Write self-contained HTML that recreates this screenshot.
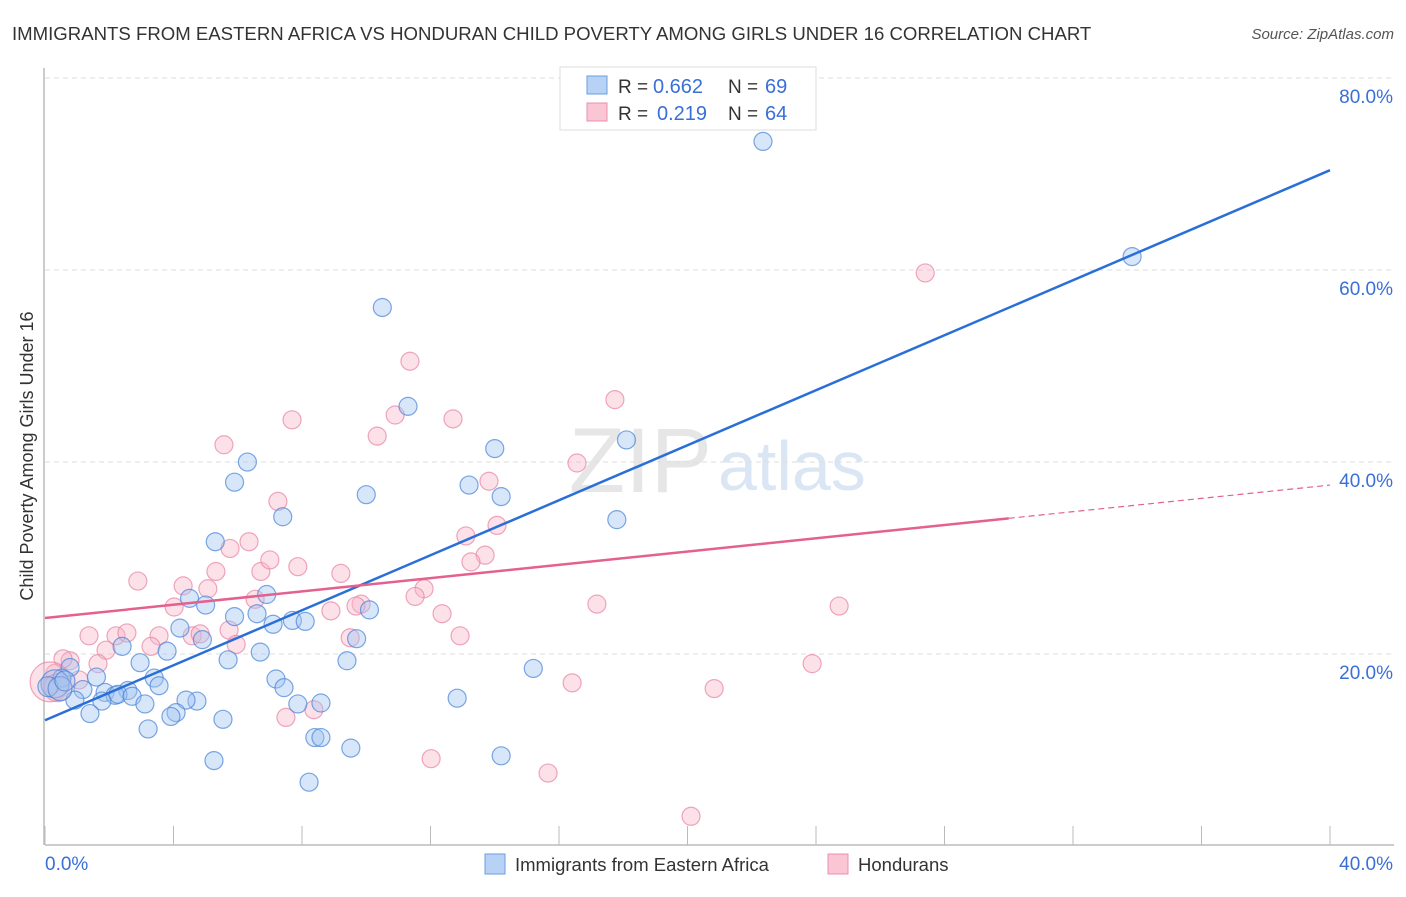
<!DOCTYPE html>
<html><head><meta charset="utf-8"><style>
body{margin:0;background:#fff;font-family:"Liberation Sans",sans-serif}
svg text{font-family:"Liberation Sans",sans-serif}
</style></head><body>
<svg id="chart" width="1406" height="892">
<text x="12" y="40" font-size="18.6" fill="#333">IMMIGRANTS FROM EASTERN AFRICA VS HONDURAN CHILD POVERTY AMONG GIRLS UNDER 16 CORRELATION CHART</text>
<text x="1394" y="39" font-size="15" fill="#555" text-anchor="end" font-style="italic">Source: ZipAtlas.com</text>
<text x="712" y="492" font-size="92" fill="#e6e6e6" text-anchor="end" font-family="Liberation Serif">ZIP</text>
<text x="718" y="490" font-size="70" fill="#dbe6f5">atlas</text>
<text transform="translate(33,456) rotate(-90)" font-size="18" fill="#333" text-anchor="middle">Child Poverty Among Girls Under 16</text>
<g id="grid"></g><g id="axes"></g><g id="pts"></g><g id="trend"></g>
<g>
<rect x="560" y="67" width="256" height="63" fill="#fff" stroke="#ddd"/>
<rect x="587" y="76" width="20" height="18" fill="#b8d2f5" stroke="#6a9ee0"/>
<rect x="587" y="103" width="20" height="18" fill="#fac6d5" stroke="#ec8fac"/>
<text x="618" y="93" font-size="19" fill="#333">R =</text>
<text x="653" y="93" font-size="20" fill="#3a6fd8">0.662</text>
<text x="728" y="93" font-size="19" fill="#333">N =</text>
<text x="765" y="93" font-size="20" fill="#3a6fd8">69</text>
<text x="618" y="120" font-size="19" fill="#333">R =</text>
<text x="657" y="120" font-size="20" fill="#3a6fd8">0.219</text>
<text x="728" y="120" font-size="19" fill="#333">N =</text>
<text x="765" y="120" font-size="20" fill="#3a6fd8">64</text>
</g>
<g>
<rect x="485" y="854" width="20" height="20" fill="#b8d2f5" stroke="#6a9ee0"/>
<text x="515" y="871" font-size="18.5" fill="#333">Immigrants from Eastern Africa</text>
<rect x="828" y="854" width="20" height="20" fill="#fac6d5" stroke="#ec8fac"/>
<text x="858" y="871" font-size="18.5" fill="#333">Hondurans</text>
</g>
</svg>
<script>
const xTicks=[0,4,8,12,16,20,24,28,32,36,40];
const yTicks=[20,40,60,80];
const yTickLabels=["20.0%","40.0%","60.0%","80.0%"];
const blueX=[22.35,33.84,10.5,11.3,18.1,6.3,5.9,10.0,13.2,14.0,14.2,17.8,7.4,5.3,6.9,4.5,5.0,5.9,6.6,7.1,7.7,8.1,10.1,9.7,4.2,4.9,2.4,3.8,2.96,5.7,6.7,9.4,15.2,0.78,0.53,1.6,3.4,3.55,2.58,1.87,2.18,1.18,0.93,2.27,2.71,1.77,3.11,4.73,4.39,7.19,7.44,8.59,7.87,1.4,4.08,3.92,5.54,3.21,12.83,8.4,8.59,9.52,5.26,14.2,8.22,0.31,0.09,0.47,0.62];
const blueY=[73.5,61.5,56.2,45.9,42.4,40.1,38.0,36.7,37.7,41.5,36.5,34.1,34.4,31.8,26.3,25.9,25.2,24.0,24.3,23.2,23.6,23.5,24.7,21.7,22.8,21.6,20.9,20.4,19.2,19.5,20.3,19.4,18.6,18.7,17.6,17.7,17.6,16.8,16.3,16.1,15.8,16.4,15.3,15.9,15.7,15.2,14.9,15.2,15.3,17.5,16.6,15.0,14.9,13.9,14.0,13.6,13.3,12.3,15.5,11.4,11.4,10.3,9.0,9.5,6.75,17.0,16.7,16.5,17.3];
const pinkX=[27.4,11.36,17.74,7.69,12.7,10.9,5.57,10.34,16.56,13.82,7.25,6.35,5.76,13.1,14.07,13.7,13.26,2.89,4.3,5.07,5.32,6.72,7.0,7.87,9.21,11.8,11.52,6.54,4.02,9.84,8.9,9.68,17.18,24.72,12.36,3.55,4.58,4.83,5.73,2.21,2.55,1.37,3.3,5.95,1.9,0.78,0.56,1.65,9.5,12.92,23.88,1.06,0.31,0.22,7.5,8.37,20.83,16.41,12.02,15.66,20.11,0.16,0.4];
const pinkY=[59.8,50.6,46.6,44.5,44.6,45.0,41.9,42.8,40.0,38.1,36.0,31.8,31.1,32.4,33.5,30.4,29.7,27.7,27.2,26.9,28.7,28.7,29.9,29.2,28.5,26.9,26.1,25.8,25.0,25.3,24.6,25.1,25.3,25.1,24.3,22.0,22.0,22.2,22.6,22.0,22.3,22.0,20.9,21.1,20.5,19.4,19.6,19.1,21.8,22.0,19.1,17.4,18.1,16.9,13.5,14.3,16.5,17.1,9.2,7.7,3.2,17.2,16.6];
const blueR=[9,9,9,9,9,9,9,9,9,9,9,9,9,9,9,9,9,9,9,9,9,9,9,9,9,9,9,9,9,9,9,9,9,9,9,9,9,9,9,9,9,9,9,9,9,9,9,9,9,9,9,9,9,9,9,9,9,9,9,9,9,9,9,9,9,14,10,12,10];
const pinkR=[9,9,9,9,9,9,9,9,9,9,9,9,9,9,9,9,9,9,9,9,9,9,9,9,9,9,9,9,9,9,9,9,9,9,9,9,9,9,9,9,9,9,9,9,9,9,9,9,9,9,9,9,9,9,9,9,9,9,9,9,9,20,14];
const blueTrend=[13.2,70.5];
const pinkTrend=[23.85,37.7];
const pinkSolidEnd=30;
const X=v=>45+v/40*1285, Y=v=>847-v*9.6;
const NS="http://www.w3.org/2000/svg";
function mk(t,a,p){const e=document.createElementNS(NS,t);for(const k in a)e.setAttribute(k,a[k]);p.appendChild(e);return e;}
const grid=document.getElementById('grid'),axes=document.getElementById('axes'),pts=document.getElementById('pts'),tr=document.getElementById('trend');
yTicks.forEach((v,i)=>{
 const l=mk('line',{x1:45,x2:1394,y1:Y(v)-1,y2:Y(v)-1,stroke:'#ddd','stroke-dasharray':'5,4'},grid);
 
 
 const t=mk('text',{x:1393,y:Y(v)+24,'font-size':19,fill:'#3a6fd8','text-anchor':'end'},axes);t.textContent=yTickLabels[i];
 
 
});
const ax=mk('line',{x1:45,x2:1394,y1:845,y2:845,stroke:'#bbb','stroke-width':1.5},axes);


const ay=mk('line',{x1:44,x2:44,y1:68,y2:845,stroke:'#bbb','stroke-width':1.5},axes);


xTicks.forEach(v=>{const t=mk('line',{x1:X(v),x2:X(v),y1:826,y2:845,stroke:'#bbb'},axes);
 
 });
const x0=mk('text',{x:45,y:870,'font-size':19,fill:'#3a6fd8'},axes);x0.textContent='0.0%';


const x1=mk('text',{x:1393,y:870,'font-size':19,fill:'#3a6fd8','text-anchor':'end'},axes);x1.textContent='40.0%';


pinkX.forEach((x,i)=>{const c=mk('circle',{cx:X(x),cy:Y(pinkY[i]),r:pinkR[i],fill:'rgba(248,180,200,0.4)',stroke:'rgba(232,130,162,0.7)','stroke-width':1.2},pts);
 
 });
blueX.forEach((x,i)=>{const c=mk('circle',{cx:X(x),cy:Y(blueY[i]),r:blueR[i],fill:'rgba(160,196,240,0.42)',stroke:'rgba(70,130,215,0.7)','stroke-width':1.2},pts);
 
 });
const bl=mk('line',{x1:X(0),y1:Y(blueTrend[0]),x2:X(40),y2:Y(blueTrend[1]),stroke:'#2a6fd8','stroke-width':2.5},tr);


const pe=pinkTrend[0]+(pinkTrend[1]-pinkTrend[0])*pinkSolidEnd/40;
const pl=mk('line',{x1:X(0),y1:Y(pinkTrend[0]),x2:X(pinkSolidEnd),y2:Y(pe),stroke:'#e4608e','stroke-width':2.5},tr);


const pd=mk('line',{x1:X(pinkSolidEnd),y1:Y(pe),x2:X(40),y2:Y(pinkTrend[1]),stroke:'#e4608e','stroke-width':1.2,'stroke-dasharray':'6,4'},tr);


</script>
</body></html>
